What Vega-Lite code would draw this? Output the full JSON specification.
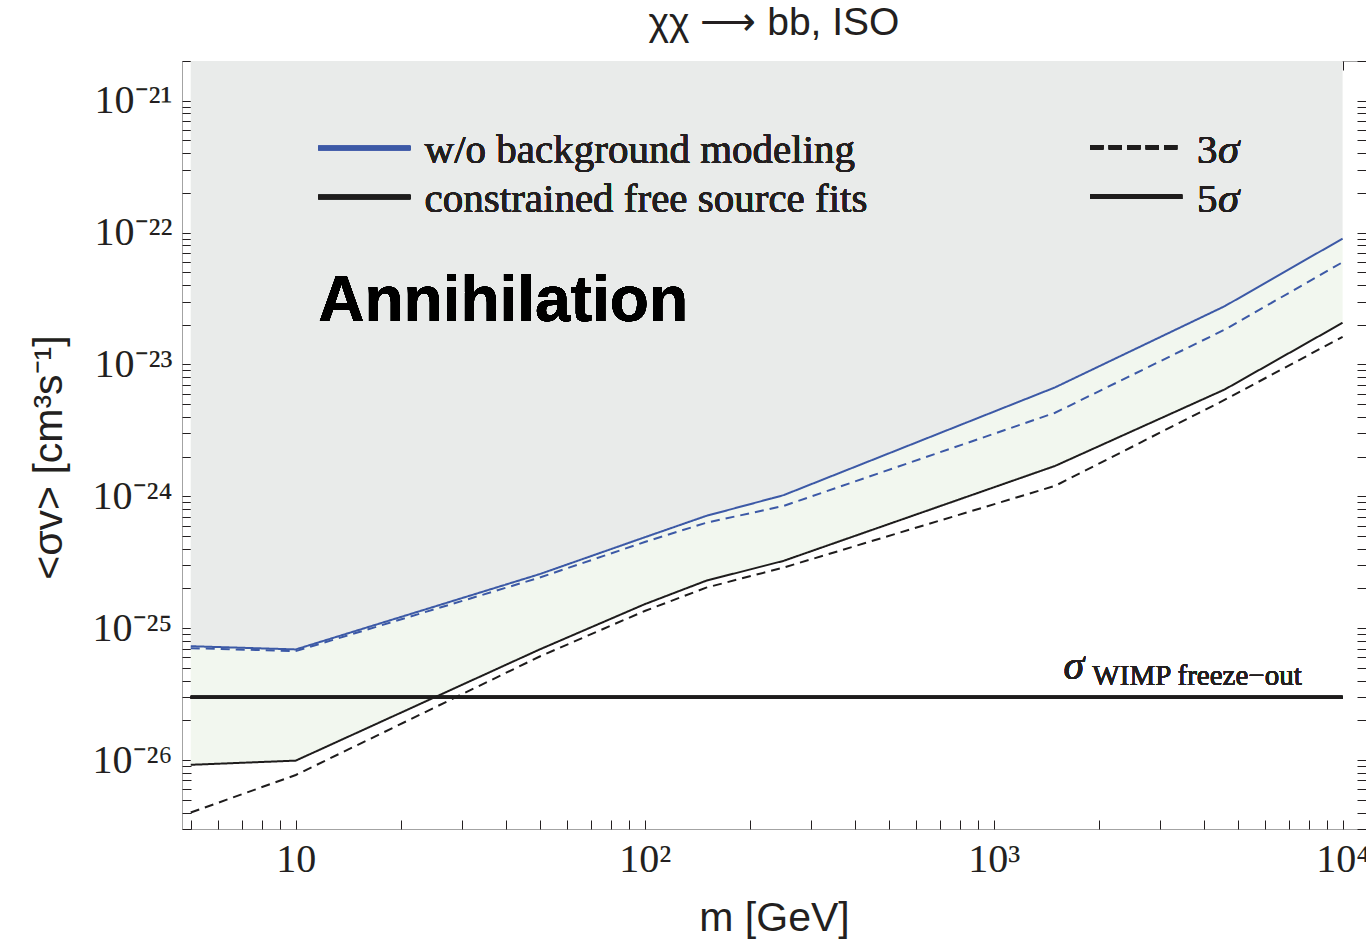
{
  "$schema": "https://vega.github.io/schema/vega-lite/v6.json",
  "width": 1184,
  "height": 768,
  "autosize": "none",
  "padding": {"left": 182, "top": 61, "right": 0, "bottom": 110},
  "background": "white",
  "title": {
    "text": "χχ ⟶ bb, ISO",
    "font": "Liberation Sans",
    "fontSize": 39,
    "fontWeight": "normal",
    "color": "#231f20",
    "anchor": "middle",
    "frame": "group",
    "baseline": "alphabetic",
    "offset": -13
  },
  "config": {
    "view": {"stroke": "#a3a3a3", "strokeWidth": 1},
    "axis": {
      "grid": false,
      "domain": false,
      "labelFont": "Liberation Serif",
      "labelFontSize": 40,
      "labelColor": "#231f20",
      "tickColor": "#231f20",
      "tickWidth": 1,
      "labelFlush": false,
      "labelOverlap": false,
      "titleFont": "Liberation Sans",
      "titleFontSize": 41,
      "titleFontWeight": "normal",
      "titleColor": "#231f20"
    }
  },
  "data": {
    "values": [
      {"m": 5, "blue5": 7.3e-26, "blue3": 7.05e-26, "black5": 9.2e-27, "black3": 4.0e-27},
      {"m": 10, "blue5": 6.9e-26, "blue3": 6.7e-26, "black5": 9.9e-27, "black3": 7.7e-27},
      {"m": 50, "blue5": 2.57e-25, "blue3": 2.42e-25, "black5": 6.9e-26, "black3": 6.1e-26},
      {"m": 100, "blue5": 4.89e-25, "blue3": 4.5e-25, "black5": 1.52e-25, "black3": 1.35e-25},
      {"m": 150, "blue5": 7.1e-25, "blue3": 6.3e-25, "black5": 2.29e-25, "black3": 2.03e-25},
      {"m": 250, "blue5": 1.02e-24, "blue3": 8.45e-25, "black5": 3.24e-25, "black3": 2.88e-25},
      {"m": 1500, "blue5": 6.7e-24, "blue3": 4.3e-24, "black5": 1.70e-24, "black3": 1.2e-24},
      {"m": 4600, "blue5": 2.77e-23, "blue3": 1.84e-23, "black5": 6.47e-24, "black3": 5.4e-24},
      {"m": 10000, "blue5": 9.0e-23, "blue3": 5.96e-23, "black5": 2.07e-23, "black3": 1.62e-23}
    ]
  },
  "resolve": {"axis": {"x": "independent", "y": "independent"}},
  "layer": [
    {
      "mark": {"type": "area", "color": "#e9ebea", "opacity": 1},
      "encoding": {
        "x": {
          "field": "m", "type": "quantitative",
          "scale": {"type": "log", "domain": [4.72, 11670], "nice": false},
          "axis": {
            "orient": "bottom",
            "values": [10, 100, 1000, 10000],
            "ticks": false,
            "labelPadding": 10,
            "labelExpr": "datum.value == 10 ? '10' : datum.value == 100 ? '10²' : datum.value == 1000 ? '10³' : '10⁴'",
            "title": "m [GeV]",
            "titlePadding": 19
          }
        },
        "y": {
          "field": "blue5", "type": "quantitative",
          "scale": {"type": "log", "domain": [3e-27, 2e-21], "nice": false},
          "axis": {
            "orient": "left",
            "values": [1e-26, 1e-25, 1e-24, 1e-23, 1e-22, 1e-21],
            "ticks": false,
            "labelPadding": 10,
            "labelBaseline": "middle",
            "labelExpr": "datum.value < 3e-26 ? '10⁻²⁶' : datum.value < 3e-25 ? '10⁻²⁵' : datum.value < 3e-24 ? '10⁻²⁴' : datum.value < 3e-23 ? '10⁻²³' : datum.value < 3e-22 ? '10⁻²²' : '10⁻²¹'",
            "title": "<σv> [cm³s⁻¹]",
            "titlePadding": 22,
            "titleY": 396
          }
        },
        "y2": {"datum": 2e-21}
      }
    },
    {
      "mark": {"type": "area", "color": "#f2f7ef", "opacity": 1},
      "encoding": {
        "x": {
          "field": "m", "type": "quantitative",
          "scale": {"type": "log", "domain": [4.72, 11670], "nice": false},
          "axis": {
            "orient": "bottom",
            "values": [5, 6, 7, 8, 9, 10, 20, 30, 40, 50, 60, 70, 80, 90, 100, 200, 300, 400, 500, 600, 700, 800, 900, 1000, 2000, 3000, 4000, 5000, 6000, 7000, 8000, 9000, 10000],
            "labels": false,
            "tickSize": -9,
            "title": null
          }
        },
        "y": {
          "field": "blue5", "type": "quantitative",
          "scale": {"type": "log", "domain": [3e-27, 2e-21], "nice": false},
          "axis": {
            "orient": "left",
            "values": [3e-27, 4e-27, 5e-27, 6e-27, 7e-27, 8e-27, 9e-27, 1e-26, 2e-26, 3e-26, 4e-26, 5e-26, 6e-26, 7e-26, 8e-26, 9e-26, 1e-25, 2e-25, 3e-25, 4e-25, 5e-25, 6e-25, 7e-25, 8e-25, 9e-25, 1e-24, 2e-24, 3e-24, 4e-24, 5e-24, 6e-24, 7e-24, 8e-24, 9e-24, 1e-23, 2e-23, 3e-23, 4e-23, 5e-23, 6e-23, 7e-23, 8e-23, 9e-23, 1e-22, 2e-22, 3e-22, 4e-22, 5e-22, 6e-22, 7e-22, 8e-22, 9e-22, 1e-21, 2e-21],
            "labels": false,
            "tickSize": -9,
            "title": null
          }
        },
        "y2": {"field": "black5"}
      }
    },
    {
      "transform": [{"fold": ["blue5", "blue3", "black5", "black3"], "as": ["curve", "sigmav"]}],
      "mark": {"type": "line", "strokeWidth": 2},
      "encoding": {
        "x": {
          "field": "m", "type": "quantitative",
          "scale": {"type": "log", "domain": [4.72, 11670], "nice": false},
          "axis": {
            "orient": "top",
            "values": [5, 6, 7, 8, 9, 10, 20, 30, 40, 50, 60, 70, 80, 90, 100, 200, 300, 400, 500, 600, 700, 800, 900, 1000, 2000, 3000, 4000, 5000, 6000, 7000, 8000, 9000, 10000],
            "labels": false,
            "tickSize": -9,
            "title": null
          }
        },
        "y": {
          "field": "sigmav", "type": "quantitative",
          "scale": {"type": "log", "domain": [3e-27, 2e-21], "nice": false},
          "axis": {
            "orient": "right",
            "values": [3e-27, 4e-27, 5e-27, 6e-27, 7e-27, 8e-27, 9e-27, 1e-26, 2e-26, 3e-26, 4e-26, 5e-26, 6e-26, 7e-26, 8e-26, 9e-26, 1e-25, 2e-25, 3e-25, 4e-25, 5e-25, 6e-25, 7e-25, 8e-25, 9e-25, 1e-24, 2e-24, 3e-24, 4e-24, 5e-24, 6e-24, 7e-24, 8e-24, 9e-24, 1e-23, 2e-23, 3e-23, 4e-23, 5e-23, 6e-23, 7e-23, 8e-23, 9e-23, 1e-22, 2e-22, 3e-22, 4e-22, 5e-22, 6e-22, 7e-22, 8e-22, 9e-22, 1e-21, 2e-21],
            "labels": false,
            "tickSize": -9,
            "title": null
          }
        },
        "color": {
          "field": "curve", "type": "nominal", "legend": null,
          "scale": {"domain": ["blue5", "blue3", "black5", "black3"], "range": ["#3c59a6", "#3c59a6", "#1e1c1c", "#1e1c1c"]}
        },
        "strokeDash": {
          "field": "curve", "type": "nominal", "legend": null,
          "scale": {"domain": ["blue5", "blue3", "black5", "black3"], "range": [[1, 0], [9, 6], [1, 0], [9, 6]]}
        }
      }
    },
    {
      "mark": {"type": "rule", "color": "#1e1c1c", "strokeWidth": 3},
      "encoding": {
        "x": {"datum": 5, "type": "quantitative", "axis": null},
        "x2": {"datum": 10000},
        "y": {"datum": 3e-26, "type": "quantitative", "axis": null}
      }
    },
    {
      "mark": {"type": "rule", "color": "#3c59a6", "strokeWidth": 4.5},
      "encoding": {
        "x": {"datum": 11.6, "type": "quantitative", "axis": null},
        "x2": {"datum": 21.3},
        "y": {"datum": 4.38e-22, "type": "quantitative", "axis": null}
      }
    },
    {
      "mark": {"type": "rule", "color": "#1e1c1c", "strokeWidth": 4.5},
      "encoding": {
        "x": {"datum": 11.6, "type": "quantitative", "axis": null},
        "x2": {"datum": 21.3},
        "y": {"datum": 1.86e-22, "type": "quantitative", "axis": null}
      }
    },
    {
      "mark": {"type": "rule", "color": "#1e1c1c", "strokeWidth": 4.5, "strokeDash": [13, 5.5]},
      "encoding": {
        "x": {"datum": 1892, "type": "quantitative", "axis": null},
        "x2": {"datum": 3357},
        "y": {"datum": 4.43e-22, "type": "quantitative", "axis": null}
      }
    },
    {
      "mark": {"type": "rule", "color": "#1e1c1c", "strokeWidth": 4.5},
      "encoding": {
        "x": {"datum": 1892, "type": "quantitative", "axis": null},
        "x2": {"datum": 3470},
        "y": {"datum": 1.87e-22, "type": "quantitative", "axis": null}
      }
    },
    {
      "mark": {"type": "text", "align": "left", "baseline": "alphabetic", "font": "Liberation Serif", "fontSize": 41, "color": "#231f20"},
      "encoding": {
        "x": {"datum": 23.4, "type": "quantitative", "axis": null},
        "y": {"datum": 3.39e-22, "type": "quantitative", "axis": null},
        "text": {"value": "w/o background modeling"}
      }
    },
    {
      "mark": {"type": "text", "align": "left", "baseline": "alphabetic", "font": "Liberation Serif", "fontSize": 41, "color": "#231f20"},
      "encoding": {
        "x": {"datum": 23.4, "type": "quantitative", "axis": null},
        "y": {"datum": 1.44e-22, "type": "quantitative", "axis": null},
        "text": {"value": "constrained free source fits"}
      }
    },
    {
      "mark": {"type": "text", "align": "left", "baseline": "alphabetic", "font": "Liberation Serif", "fontSize": 41, "color": "#231f20"},
      "encoding": {
        "x": {"datum": 3829, "type": "quantitative", "axis": null},
        "y": {"datum": 3.39e-22, "type": "quantitative", "axis": null},
        "text": {"value": "3"}
      }
    },
    {
      "mark": {"type": "text", "align": "left", "baseline": "alphabetic", "font": "Liberation Serif", "fontStyle": "italic", "fontSize": 43, "color": "#231f20", "dx": 21},
      "encoding": {
        "x": {"datum": 3829, "type": "quantitative", "axis": null},
        "y": {"datum": 3.39e-22, "type": "quantitative", "axis": null},
        "text": {"value": "σ"}
      }
    },
    {
      "mark": {"type": "text", "align": "left", "baseline": "alphabetic", "font": "Liberation Serif", "fontSize": 41, "color": "#231f20"},
      "encoding": {
        "x": {"datum": 3829, "type": "quantitative", "axis": null},
        "y": {"datum": 1.44e-22, "type": "quantitative", "axis": null},
        "text": {"value": "5"}
      }
    },
    {
      "mark": {"type": "text", "align": "left", "baseline": "alphabetic", "font": "Liberation Serif", "fontStyle": "italic", "fontSize": 43, "color": "#231f20", "dx": 21},
      "encoding": {
        "x": {"datum": 3829, "type": "quantitative", "axis": null},
        "y": {"datum": 1.44e-22, "type": "quantitative", "axis": null},
        "text": {"value": "σ"}
      }
    },
    {
      "mark": {"type": "text", "align": "left", "baseline": "alphabetic", "font": "Liberation Sans", "fontWeight": "bold", "fontSize": 64, "color": "#000000"},
      "encoding": {
        "x": {"datum": 11.6, "type": "quantitative", "axis": null},
        "y": {"datum": 2.12e-23, "type": "quantitative", "axis": null},
        "text": {"value": "Annihilation"}
      }
    },
    {
      "mark": {"type": "text", "align": "left", "baseline": "alphabetic", "font": "Liberation Serif", "fontStyle": "italic", "fontSize": 42, "color": "#231f20"},
      "encoding": {
        "x": {"datum": 1585, "type": "quantitative", "axis": null},
        "y": {"datum": 4.1e-26, "type": "quantitative", "axis": null},
        "text": {"value": "σ"}
      }
    },
    {
      "mark": {"type": "text", "align": "left", "baseline": "alphabetic", "font": "Liberation Serif", "fontSize": 29, "color": "#231f20"},
      "encoding": {
        "x": {"datum": 1918, "type": "quantitative", "axis": null},
        "y": {"datum": 3.7e-26, "type": "quantitative", "axis": null},
        "text": {"value": "WIMP freeze−out"}
      }
    }
  ]
}
